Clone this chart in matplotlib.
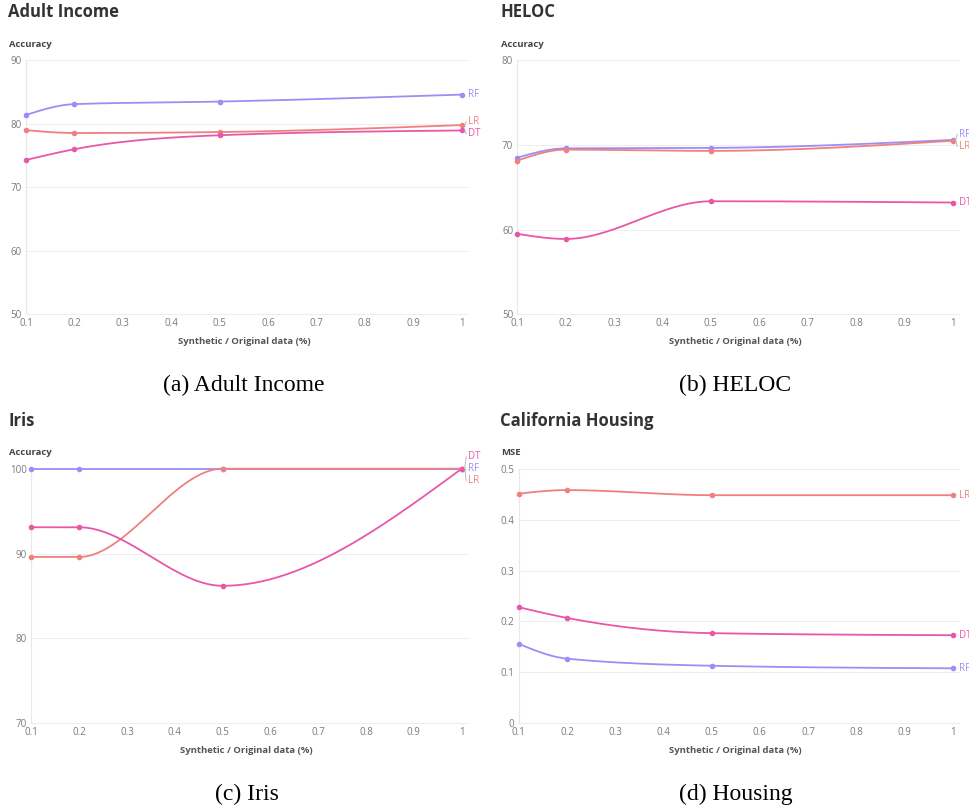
import numpy as np
import matplotlib
matplotlib.use("Agg")
import matplotlib.pyplot as plt

W, H = 969, 810

# --- data ---
x_ratio = [0.1, 0.2, 0.5, 1.0]

adult_rf = [81.4, 83.1, 83.5, 84.6]
adult_lr = [79.0, 78.55, 78.7, 79.8]
adult_dt = [74.3, 76.0, 78.2, 78.95]

heloc_rf = [68.5, 69.6, 69.65, 70.6]
heloc_lr = [68.15, 69.45, 69.3, 70.5]
heloc_dt = [59.5, 58.9, 63.35, 63.2]

iris_rf = [100, 100, 100, 100]
iris_lr = [89.6, 89.6, 100, 100]
iris_dt = [93.1, 93.1, 86.2, 100]

housing_rf = [0.156, 0.127, 0.113, 0.108]
housing_lr = [0.451, 0.458, 0.448, 0.448]
housing_dt = [0.228, 0.207, 0.177, 0.173]

x_ticks = [0.1, 0.2, 0.3, 0.4, 0.5, 0.6, 0.7, 0.8, 0.9, 1.0]
acc_ticks_adult = [50, 60, 70, 80, 90]
acc_ticks_heloc = [50, 60, 70, 80]
acc_ticks_iris = [70, 80, 90, 100]
mse_ticks = [0, 0.1, 0.2, 0.3, 0.4, 0.5]

COLORS = {"RF": "#9d8df6", "LR": "#ef8080", "DT": "#e957a8"}
TIE_ORDER = ["DT", "RF", "LR"]

plt.rcParams["font.family"] = ["Open Sans", "DejaVu Sans"]


def monotone_x(xs, ys, n=60):
    # monotone cubic (same flavour as d3.curveMonotoneX)
    xs = np.asarray(xs, float)
    ys = np.asarray(ys, float)
    h = np.diff(xs)
    s = np.diff(ys) / h
    t = np.zeros(len(xs))
    for i in range(1, len(xs) - 1):
        p = (s[i - 1] * h[i] + s[i] * h[i - 1]) / (h[i - 1] + h[i])
        t[i] = (np.sign(s[i - 1]) + np.sign(s[i])) * min(abs(s[i - 1]), abs(s[i]), 0.5 * abs(p))
    t[0] = (3 * s[0] - t[1]) / 2
    t[-1] = (3 * s[-1] - t[-2]) / 2
    px, py = [], []
    for i in range(len(xs) - 1):
        u = np.linspace(0, 1, n)
        dx = h[i]
        h00 = 2 * u**3 - 3 * u**2 + 1
        h10 = u**3 - 2 * u**2 + u
        h01 = -2 * u**3 + 3 * u**2
        h11 = u**3 - u**2
        px.append(xs[i] + u * dx)
        py.append(h00 * ys[i] + h10 * dx * t[i] + h01 * ys[i + 1] + h11 * dx * t[i + 1])
    return np.concatenate(px), np.concatenate(py)


def fx(px):
    return px / W


def fy(py):
    return 1 - py / H


def panel(box, title, ylabel, yticks, series, caption, title_x):
    left, right, top, bottom = box
    ax = fig.add_axes([fx(left), fy(bottom), (right - left) / W, (bottom - top) / H])
    ax.set_xlim(0.1, 1.0)
    ax.set_ylim(yticks[0], yticks[-1])
    ax.set_xticks(x_ticks)
    ax.set_xticklabels([f"{v:g}" for v in x_ticks])
    ax.set_yticks(yticks)
    ax.set_yticklabels([f"{v:g}" for v in yticks])
    ax.tick_params(length=0, labelsize=7, labelcolor="#7a7a7a", pad=3)
    for sp in ["top", "right", "bottom"]:
        ax.spines[sp].set_visible(False)
    ax.spines["left"].set_color("#e8e8e8")
    ax.spines["left"].set_linewidth(0.8)
    for v in yticks:
        ax.axhline(v, color="#eeeeee", lw=0.8, zorder=0, xmax=1.015, clip_on=False)

    for name, vals in series:
        sx, sy = monotone_x(x_ratio, vals)
        ax.plot(sx, sy, color=COLORS[name], lw=1.3, zorder=3, clip_on=False,
                solid_capstyle="round")
        ax.plot(x_ratio, vals, "o", color=COLORS[name], ms=3, zorder=4, clip_on=False)

    # end labels, pushed apart where they collide
    fig.canvas.draw()
    inv = fig.transFigure.inverted()
    ends = []
    for name, vals in series:
        dx, dy = ax.transData.transform((x_ratio[-1], vals[-1]))
        ends.append([name, dx, dy, dy])
    ends.sort(key=lambda e: (-e[2], TIE_ORDER.index(e[0])))
    gap = 12
    for _ in range(20):
        moved = False
        i = 0
        while i < len(ends):
            j = i
            while j + 1 < len(ends) and ends[j][3] - ends[j + 1][3] < gap - 0.01:
                j += 1
            if j > i:
                c = np.mean([e[2] for e in ends[i:j + 1]])
                k = j - i
                for m, e in enumerate(ends[i:j + 1]):
                    e[3] = c + (k / 2 - m) * gap
                moved = True
            i = j + 1
        if not moved:
            break
    for name, dx, dy, ly in ends:
        tx, ty = inv.transform((dx + 6, ly))
        fig.text(tx, ty, name, color=COLORS[name], fontsize=7, va="center", ha="left")
        if abs(ly - dy) > 0.5:
            a = inv.transform((dx + 3, dy))
            b = inv.transform((dx + 4.5, ly))
            fig.add_artist(plt.Line2D([a[0], b[0]], [a[1], b[1]], color="#bbbbbb", lw=0.7))

    fig.text(fx(title_x), fy(top - 48), title, fontsize=12, fontweight="bold",
             color="#333333", va="center", ha="left")
    fig.text(fx(title_x + 1), fy(top - 16), ylabel, fontsize=6.8, fontweight="bold",
             color="#444444", va="center", ha="left")
    cx = (left + right) / 2
    fig.text(fx(cx), fy(bottom + 27), "Synthetic / Original data (%)", fontsize=6.8,
             fontweight="bold", color="#555555", va="center", ha="center")
    fig.text(fx(cx), fy(bottom + 71.5), caption, fontsize=17, family="Liberation Serif",
             color="black", va="center", ha="center")
    return ax


fig = plt.figure(figsize=(W / 100, H / 100), dpi=100)

panel((26, 461.7, 60.3, 314.3), "Adult Income", "Accuracy", acc_ticks_adult,
      [("RF", adult_rf), ("LR", adult_lr), ("DT", adult_dt)], "(a) Adult Income", 8)
panel((517.3, 952.7, 60.3, 314.3), "HELOC", "Accuracy", acc_ticks_heloc,
      [("RF", heloc_rf), ("LR", heloc_lr), ("DT", heloc_dt)], "(b) HELOC", 500)
panel((31.3, 461.7, 468.7, 723.3), "Iris", "Accuracy", acc_ticks_iris,
      [("RF", iris_rf), ("LR", iris_lr), ("DT", iris_dt)], "(c) Iris", 8)
panel((518.7, 952.7, 468.7, 723.3), "California Housing", "MSE", mse_ticks,
      [("RF", housing_rf), ("LR", housing_lr), ("DT", housing_dt)], "(d) Housing", 500)

fig.savefig("out.png", dpi=100)
